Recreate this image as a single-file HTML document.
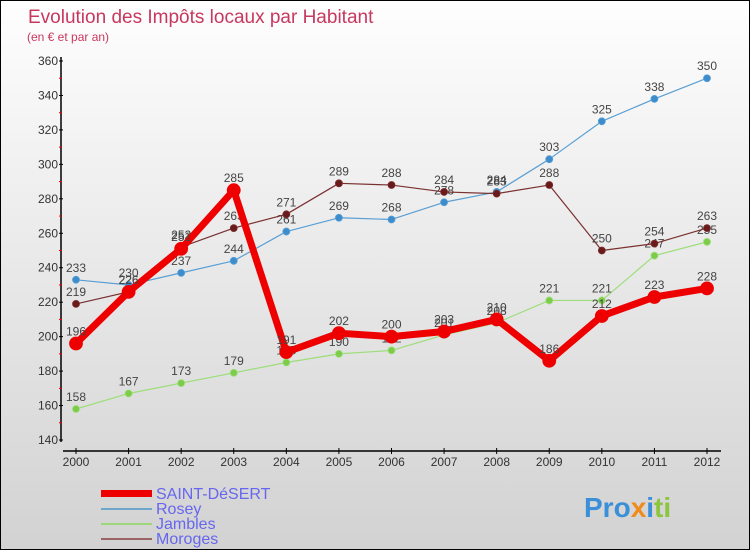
<!DOCTYPE html>
<html><head><meta charset="utf-8"><style>
body{margin:0}
#c{width:748px;height:548px;border:1px solid #000;background:linear-gradient(#fefefe,#d2d2d2);position:relative;font-family:"Liberation Sans",sans-serif;overflow:hidden}
svg{position:absolute;left:0;top:0}
</style></head><body>
<div id="c">
<svg id="s" width="750" height="550">
<text x="27" y="22" font-size="19" fill="#c8385e">Evolution des Impôts locaux par Habitant</text>
<text x="26" y="40" font-size="12" fill="#c8385e">(en € et par an)</text>
<g id="axes"></g><g id="series"></g>
<g>
<rect x="100" y="489" width="51" height="7" fill="#e00"/>
<text x="155" y="498" font-size="16" fill="#6666ee">SAINT-DéSERT</text>
<rect x="100" y="507" width="51" height="2" fill="#6fa6cc"/>
<text x="155" y="513" font-size="16" fill="#6666ee">Rosey</text>
<rect x="100" y="522" width="51" height="2" fill="#9dd87a"/>
<text x="155" y="528" font-size="16" fill="#6666ee">Jambles</text>
<rect x="100" y="537" width="51" height="2" fill="#9a6464"/>
<text x="155" y="543" font-size="16" fill="#6666ee">Moroges</text>
</g>
<text x="583" y="516" font-size="28" font-weight="bold"><tspan fill="#3b8fd8">Pro</tspan><tspan fill="#f08a1c">x</tspan><tspan fill="#3b8fd8">i</tspan><tspan fill="#8cc63f">ti</tspan></text>
</svg></div>
<script>
const years=["2000","2001","2002","2003","2004","2005","2006","2007","2008","2009","2010","2011","2012"];
const yTicks=[140,160,180,200,220,240,260,280,300,320,340,360];
const saint=[196,226,251,285,191,202,200,203,210,186,212,223,228];
const rosey=[233,230,237,244,261,269,268,278,284,303,325,338,350];
const jambles=[158,167,173,179,185,190,192,201,208,221,221,247,255];
const moroges=[219,226,252,263,271,289,288,284,283,288,250,254,263];
const NS="http://www.w3.org/2000/svg";
const X=i=>75+i*(706-75)/12;
const Y=v=>439-(v-140)*(439-60)/220;
function el(t,a,p){const e=document.createElementNS(NS,t);for(const k in a)e.setAttribute(k,a[k]);p.appendChild(e);return e;}
const ax=document.getElementById('axes');
let yl=el('line',{x1:60,y1:56,x2:60,y2:441,stroke:'#000','stroke-width':1.5},ax);


let xl=el('line',{x1:62,y1:450,x2:720,y2:450,stroke:'#000','stroke-width':1.5},ax);


yTicks.forEach((v,i)=>{
 el('line',{x1:58,y1:Y(v),x2:62,y2:Y(v),stroke:'#000'},ax);
 if(i<yTicks.length-1) el('line',{x1:58,y1:Y(v+10),x2:61,y2:Y(v+10),stroke:'#e00'},ax);
 const t=el('text',{x:57,y:Y(v)+4,'font-size':12,'text-anchor':'end',fill:'#333'},ax);t.textContent=v;
 
 
});
years.forEach((y,i)=>{
 el('line',{x1:X(i),y1:447,x2:X(i),y2:453,stroke:'#000'},ax);
 const t=el('text',{x:X(i),y:465,'font-size':12,'text-anchor':'middle',fill:'#333'},ax);t.textContent=y;
 
 
});
const sg=document.getElementById('series');
function draw(name,data,color,w,r,dot){
 const g=el('g',{},sg);
 
 
 el('polyline',{points:data.map((v,i)=>X(i)+','+Y(v)).join(' '),fill:'none',stroke:color,'stroke-width':w,'stroke-linejoin':'round'},g);
 data.forEach((v,i)=>{
  const c=el('circle',{cx:X(i),cy:Y(v),r:r,fill:dot,stroke:color,'stroke-width':0.8},g);
  
  
  const t=el('text',{x:X(i),y:Y(v)-8,'font-size':12,'text-anchor':'middle',fill:'#444'},g);t.textContent=v;
  
  
 });
}
draw('rosey',rosey,'#5a9fd4',1.2,3.5,'#3d8ccc');
draw('jambles',jambles,'#9dde7a',1.2,3.5,'#7ccc4a');
draw('moroges',moroges,'#7a3030',1.2,3.5,'#6a1a1a');
draw('saint-desert',saint,'#ee0000',7,6.5,'#ee0000');
</script>
</body></html>
